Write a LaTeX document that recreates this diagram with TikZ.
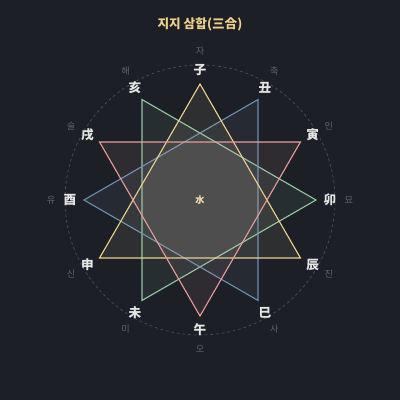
\documentclass[tikz,border=0pt]{standalone}
\usepackage{fontspec}
\setmainfont{Noto Sans CJK KR}
\usepackage{xcolor}
\definecolor{bgdark}{HTML}{1C1F26}
\definecolor{gold}{HTML}{ECD08A}
\definecolor{firepink}{HTML}{E89A9A}
\definecolor{woodgreen}{HTML}{8FC8A0}
\definecolor{metalblue}{HTML}{6A8FAE}
\definecolor{ringgray}{HTML}{4A4E56}
\definecolor{hangray}{HTML}{60646B}

\begin{document}
\begin{tikzpicture}[
    ring/.style = {draw=ringgray, line width=0.5pt, dash pattern=on 2pt off 2pt},
    trio/.style = {line width=0.8pt, draw=#1, fill=#1!80!white, fill opacity=0.085, line join=miter},
    hanja/.style = {text=white!90!black, font=\fontsize{9}{9}\selectfont\bfseries},
    hangul/.style = {text=hangray, font=\fontsize{6.5}{6.5}\selectfont}]
    \fill[bgdark] (-5,-5) rectangle (5,5);
    \useasboundingbox (-5,-5) rectangle (5,5);
    \node[text=gold, font=\fontsize{9}{9}\selectfont\bfseries] (title) at (0,4.4) {지지 삼합(三合)};
    \draw[ring] (0,0) circle (3.375);
    \foreach \h/\k [count=\i from 0] in {子/자,丑/축,寅/인,卯/묘,辰/진,巳/사,午/오,未/미,申/신,酉/유,戌/술,亥/해} {
        \coordinate (v\i) at (90-30*\i:2.9);
        \node[hanja] (h\i) at (90-30*\i:3.25) {\h};
        \node[hangul] (k\i) at (90-30*\i:3.72) {\k};
    }
    % 亥卯未, 巳酉丑, 申子辰, 寅午戌
    \draw[trio=woodgreen] (v11) -- (v3) -- (v7) -- cycle;
    \draw[trio=metalblue] (v5) -- (v9) -- (v1) -- cycle;
    \draw[trio=gold] (v0) -- (v4) -- (v8) -- cycle;
    \draw[trio=firepink] (v2) -- (v6) -- (v10) -- cycle;
    \node[text=gold!70!white, font=\fontsize{6.5}{6.5}\selectfont\bfseries] (center) at (0,0) {水};
\end{tikzpicture}
\end{document}
